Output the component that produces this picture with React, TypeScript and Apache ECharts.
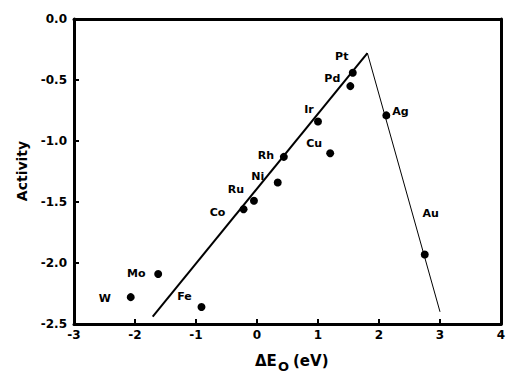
import React, { useEffect, useRef } from "react";
import * as echarts from "echarts";

// Data
const metals = ["W", "Mo", "Fe", "Co", "Ru", "Ni", "Rh", "Cu", "Ir", "Pd", "Pt", "Ag", "Au"];
const deltaE = [-2.07, -1.62, -0.91, -0.22, -0.05, 0.34, 0.44, 1.2, 1.0, 1.53, 1.57, 2.12, 2.75];
const activity = [-2.28, -2.09, -2.36, -1.56, -1.49, -1.34, -1.13, -1.1, -0.84, -0.55, -0.44, -0.79, -1.93];
const leftLineX = [-1.71, 1.81];
const leftLineY = [-2.44, -0.28];
const rightLineX = [1.81, 3.0];
const rightLineY = [-0.28, -2.4];
const xTicks = [-3, -2, -1, 0, 1, 2, 3, 4];
const yTicks = ["-2.5", "-2.0", "-1.5", "-1.0", "-0.5", "0.0"];

// Label placement (style, not data)
const labelOffsets: Record<string, [number, number]> = {
  W: [-26, 1],
  Mo: [-22, 0],
  Fe: [-17, -10],
  Co: [-26, 3],
  Ru: [-18, -11],
  Ni: [-20, -6],
  Rh: [-18, -1],
  Cu: [-16, -10],
  Ir: [-9, -12],
  Pd: [-18, -8],
  Pt: [-11, -16],
  Ag: [14, -4],
  Au: [6, -41],
};

const FONT = "DejaVu Sans";

export default function App() {
  const ref = useRef<HTMLDivElement>(null);
  useEffect(() => {
    if (!ref.current) return;
    const chart = echarts.init(ref.current, undefined, { renderer: "svg" });
    const points = metals.map((m, i) => ({
      value: [deltaE[i], activity[i]],
      name: m,
      label: {
        show: true,
        position: "inside" as const,
        offset: labelOffsets[m],
        formatter: m,
        color: "#000",
        fontFamily: FONT,
        fontWeight: "bold" as const,
        fontSize: 11,
      },
    }));
    const xMin = xTicks[0];
    const xMax = xTicks[xTicks.length - 1];
    const yMin = Number(yTicks[0]);
    const yMax = Number(yTicks[yTicks.length - 1]);
    const frameLine = { show: true, onZero: false, lineStyle: { color: "#000", width: 3 } };
    chart.setOption({
      animation: false,
      grid: {
        left: 74,
        right: 19,
        top: 19,
        bottom: 60,
        show: false,
      },
      xAxis: [
        {
          type: "value",
          position: "bottom",
          min: xMin,
          max: xMax,
          interval: 1,
          axisLine: frameLine,
          splitLine: { show: false },
          axisTick: { show: true, inside: true, length: 5, lineStyle: { color: "#000", width: 2 } },
          axisLabel: {
            color: "#000",
            fontFamily: FONT,
            fontWeight: "bold",
            fontSize: 12,
            margin: 5,
            formatter: (v: number) => String(v),
          },
        },
        {
          type: "value",
          position: "top",
          min: xMin,
          max: xMax,
          interval: 1,
          axisLine: frameLine,
          splitLine: { show: false },
          axisTick: { show: false },
          axisLabel: { show: false },
        },
      ],
      yAxis: [
        {
          type: "value",
          position: "left",
          min: yMin,
          max: yMax,
          interval: 0.5,
          axisLine: frameLine,
          splitLine: { show: false },
          axisTick: { show: true, inside: true, length: 5, lineStyle: { color: "#000", width: 2 } },
          axisLabel: {
            color: "#000",
            fontFamily: FONT,
            fontWeight: "bold",
            fontSize: 12,
            margin: 7,
            formatter: (v: number) => v.toFixed(1),
          },
        },
        {
          type: "value",
          position: "right",
          min: yMin,
          max: yMax,
          interval: 0.5,
          axisLine: frameLine,
          splitLine: { show: false },
          axisTick: { show: false },
          axisLabel: { show: false },
        },
      ],
      graphic: [
        {
          type: "text",
          x: 22,
          y: 171,
          rotation: Math.PI / 2,
          style: {
            text: "Activity",
            fill: "#000",
            font: `bold 14px "${FONT}"`,
            textAlign: "center",
            textVerticalAlign: "middle",
          },
        },
        {
          type: "text",
          x: 255,
          y: 361,
          style: {
            text: "ΔE",
            fill: "#000",
            font: `bold 15px "${FONT}"`,
            textAlign: "left",
            textVerticalAlign: "middle",
          },
        },
        {
          type: "text",
          x: 278,
          y: 366,
          style: {
            text: "O",
            fill: "#000",
            font: `bold 13px "${FONT}"`,
            textAlign: "left",
            textVerticalAlign: "middle",
          },
        },
        {
          type: "text",
          x: 293,
          y: 361,
          style: {
            text: "(eV)",
            fill: "#000",
            font: `bold 15px "${FONT}"`,
            textAlign: "left",
            textVerticalAlign: "middle",
          },
        },
      ],
      series: [
        {
          type: "line",
          data: leftLineX.map((x, i) => [x, leftLineY[i]]),
          showSymbol: false,
          symbol: "none",
          lineStyle: { color: "#000", width: 2 },
          z: 2,
        },
        {
          type: "line",
          data: rightLineX.map((x, i) => [x, rightLineY[i]]),
          showSymbol: false,
          symbol: "none",
          lineStyle: { color: "#000", width: 1 },
          z: 2,
        },
        {
          type: "scatter",
          data: points,
          symbol: "circle",
          symbolSize: 8,
          itemStyle: { color: "#000", opacity: 1 },
          z: 3,
        },
      ],
    });
    return () => chart.dispose();
  }, []);
  return (
    <div
      ref={ref}
      style={{ position: "absolute", left: 0, top: 0, width: 520, height: 384, background: "#fff" }}
    />
  );
}
